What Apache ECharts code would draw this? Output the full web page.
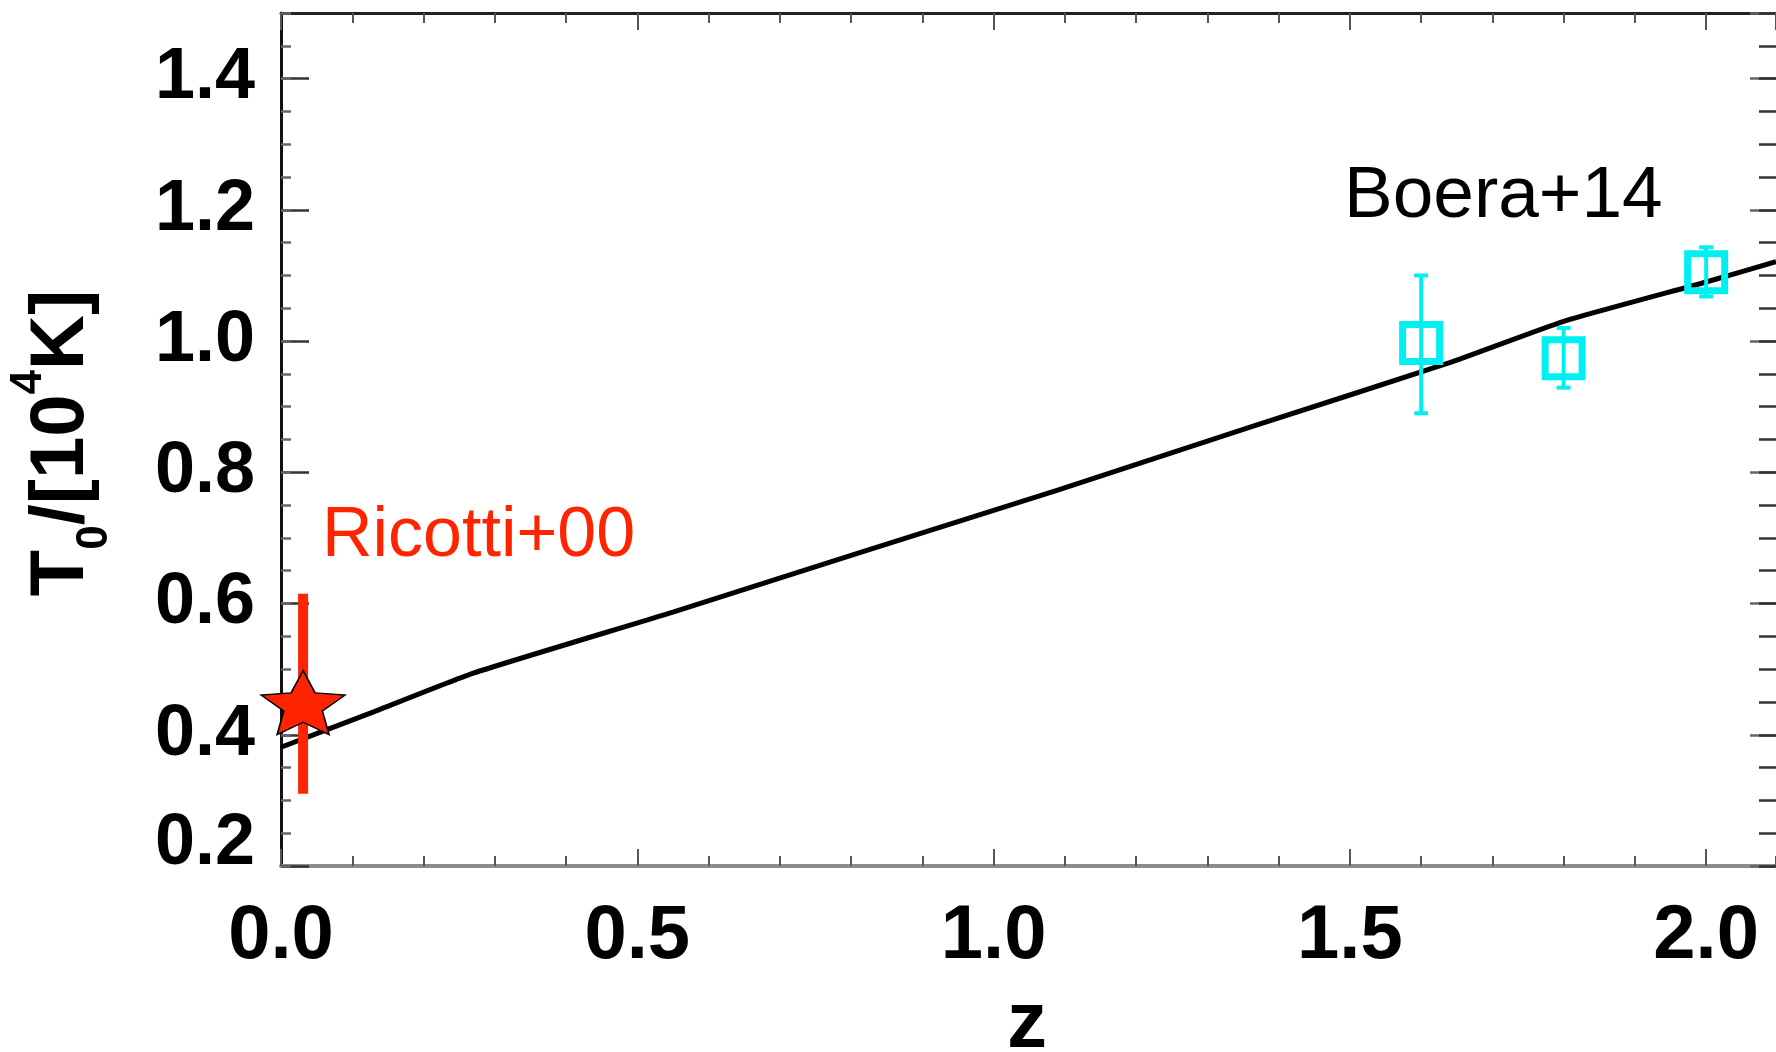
<!DOCTYPE html>
<html>
<head>
<meta charset="utf-8">
<script src="https://cdn.jsdelivr.net/npm/echarts@6/dist/echarts.min.js"></script>
<style>
html,body{margin:0;padding:0;background:#ffffff;}
#c{width:1776px;height:1052px;}
</style>
</head>
<body>
<div id="c"></div>
<script>
// ---- data ----
const modelZ = [0, 0.13, 0.27, 0.55, 0.81, 1.09, 1.36, 1.64, 1.8, 2.0, 2.098];
const modelT = [0.381, 0.435, 0.494, 0.587, 0.677, 0.773, 0.869, 0.967, 1.030, 1.090, 1.121];

const ricottiZ = [0.031];
const ricottiT = [0.449];
const ricottiLo = [0.31];
const ricottiHi = [0.615];

const boeraZ = [1.6, 1.8, 2.0];
const boeraT = [0.997, 0.974, 1.105];
const boeraLo = [0.89, 0.929, 1.068];
const boeraHi = [1.10, 1.02, 1.143];

const xTickLabels = ['0.0', '0.5', '1.0', '1.5', '2.0'];
const yTickLabels = ['0.2', '0.4', '0.6', '0.8', '1.0', '1.2', '1.4'];

// ---- styling ----
const FONT = '"Liberation Sans", Arial, Helvetica, sans-serif';
const RED = '#FF2400';
const CYAN = '#00F0F2';
const XMIN = 0, XMAX = 2.098, YMIN = 0.2, YMAX = 1.5;

function starPath(inner) {
  let d = '';
  for (let k = 0; k < 10; k++) {
    const r = k % 2 === 0 ? 1 : inner;
    const a = -Math.PI / 2 + k * Math.PI / 5;
    d += (k === 0 ? 'M' : 'L') + (r * Math.cos(a)).toFixed(4) + ',' + (r * Math.sin(a)).toFixed(4) + ' ';
  }
  return 'path://' + d + 'Z';
}

function errBar(color, width, cap) {
  return function (params, api) {
    const x = api.value(0), lo = api.value(1), hi = api.value(2);
    const p1 = api.coord([x, lo]);
    const p2 = api.coord([x, hi]);
    const st = { stroke: color, lineWidth: width, lineCap: 'butt' };
    const children = [
      { type: 'line', shape: { x1: p1[0], y1: p1[1], x2: p2[0], y2: p2[1] }, style: st }
    ];
    if (cap > 0) {
      children.push({ type: 'line', shape: { x1: p1[0] - cap, y1: p1[1], x2: p1[0] + cap, y2: p1[1] }, style: st });
      children.push({ type: 'line', shape: { x1: p2[0] - cap, y1: p2[1], x2: p2[0] + cap, y2: p2[1] }, style: st });
    }
    return { type: 'group', children: children };
  };
}

const xFmt = v => { const s = v.toFixed(1); return xTickLabels.includes(s) ? s : ''; };
const yFmt = v => {
  const s = v.toFixed(1);
  if (Math.abs(v - parseFloat(s)) > 1e-6 || !yTickLabels.includes(s)) return '';
  return s === yTickLabels[0] ? '{lo|' + s + '}' : s;
};

const labelStyle = { fontFamily: FONT, fontWeight: 'bold', color: '#000' };

function minorX(pos) {
  return {
    type: 'value', min: XMIN, max: XMAX, interval: 0.1, position: pos,
    axisLine: { show: false, onZero: false },
    axisTick: { inside: true, length: 10, lineStyle: { color: '#555', width: 2 } },
    splitLine: { show: false }, axisLabel: { show: false }
  };
}
function minorY(pos, len, color) {
  return {
    type: 'value', min: YMIN, max: YMAX, interval: 0.05, position: pos,
    axisLine: { show: false, onZero: false },
    axisTick: { inside: true, length: len, lineStyle: { color: color, width: 2.5 } },
    splitLine: { show: false }, axisLabel: { show: false }
  };
}

const chart = echarts.init(document.getElementById('c'), null, { renderer: 'canvas' });

const option = {
  animation: false,
  backgroundColor: '#ffffff',
  grid: { left: 281, top: 13, right: 0, bottom: 186, containLabel: false },
  xAxis: [
    {
      type: 'value', min: XMIN, max: XMAX, interval: 0.5, position: 'bottom',
      axisLine: { onZero: false, lineStyle: { color: '#8c8c8c', width: 4 } },
      axisTick: { inside: true, length: 17, lineStyle: { color: '#555', width: 2 } },
      splitLine: { show: false },
      axisLabel: Object.assign({ fontSize: 76, margin: 33, formatter: xFmt, showMaxLabel: false }, labelStyle)
    },
    {
      type: 'value', min: XMIN, max: XMAX, interval: 0.5, position: 'top',
      axisLine: { onZero: false, lineStyle: { color: '#222', width: 3 } },
      axisTick: { inside: true, length: 17, lineStyle: { color: '#555', width: 2 } },
      splitLine: { show: false },
      axisLabel: { show: false }
    },
    minorX('top'),
    minorX('bottom')
  ],
  yAxis: [
    {
      type: 'value', min: YMIN, max: YMAX, interval: 0.2, position: 'left',
      axisLine: { onZero: false, lineStyle: { color: '#111', width: 3 } },
      axisTick: { inside: true, length: 28, lineStyle: { color: '#333', width: 2.5 } },
      splitLine: { show: false },
      axisLabel: Object.assign({
        fontSize: 72, margin: 26, formatter: yFmt, showMaxLabel: false,
        rich: { lo: { fontSize: 72, fontWeight: 'bold', fontFamily: FONT, color: '#000', padding: [0, 0, 44, 0] } }
      }, labelStyle)
    },
    {
      type: 'value', min: YMIN, max: YMAX, interval: 0.2, position: 'right',
      axisLine: { show: false, onZero: false },
      axisTick: { inside: true, length: 26, lineStyle: { color: '#666', width: 2.5 } },
      splitLine: { show: false },
      axisLabel: { show: false }
    },
    minorY('right', 17, '#333'),
    minorY('left', 10, '#666')
  ],
  series: [
    {
      type: 'line', name: 'model', xAxisIndex: 0, yAxisIndex: 0,
      data: modelZ.map((z, i) => [z, modelT[i]]),
      showSymbol: false, symbol: 'none', smooth: 0.15,
      lineStyle: { color: '#000', width: 5 }, z: 2
    },
    {
      type: 'custom', name: 'Ricotti err', xAxisIndex: 0, yAxisIndex: 0,
      data: ricottiZ.map((z, i) => [z, ricottiLo[i], ricottiHi[i]]),
      encode: { x: 0, y: [1, 2] },
      renderItem: errBar(RED, 10, 0), z: 3
    },
    {
      type: 'scatter', name: 'Ricotti+00', xAxisIndex: 0, yAxisIndex: 0,
      data: ricottiZ.map((z, i) => [z, ricottiT[i]]),
      symbol: starPath(0.46), symbolSize: [84, 64],
      itemStyle: { color: RED, borderColor: '#000', borderWidth: 1.5, opacity: 1 }, z: 4
    },
    {
      type: 'custom', name: 'Boera err', xAxisIndex: 0, yAxisIndex: 0,
      data: boeraZ.map((z, i) => [z, boeraLo[i], boeraHi[i]]),
      encode: { x: 0, y: [1, 2] },
      renderItem: errBar(CYAN, 4, 7), z: 3
    },
    {
      type: 'scatter', name: 'Boera+14', xAxisIndex: 0, yAxisIndex: 0,
      data: boeraZ.map((z, i) => [z, boeraT[i]]),
      symbol: 'rect', symbolSize: [37, 37],
      itemStyle: { color: 'rgba(0,0,0,0)', borderColor: CYAN, borderWidth: 7, opacity: 1 }, z: 4
    }
  ],
  graphic: [
    {
      type: 'text', x: 322, y: 537,
      style: { text: 'Ricotti+00', fill: RED, font: '70px ' + FONT, align: 'left', verticalAlign: 'middle' }
    },
    {
      type: 'text', x: 1344, y: 197,
      style: { text: 'Boera+14', fill: '#000', font: '73px ' + FONT, align: 'left', verticalAlign: 'middle' }
    },
    {
      type: 'text', x: 1027, y: 1025,
      style: { text: 'z', fill: '#000', font: 'bold 80px ' + FONT, align: 'center', verticalAlign: 'middle' }
    },
    {
      type: 'text', x: 62, y: 443, rotation: Math.PI / 2,
      style: {
        text: '{a|T}{b|0}{a|/[10}{c|4}{a|K]}',
        align: 'center', verticalAlign: 'middle',
        rich: {
          a: { fontSize: 76, fontWeight: 'bold', fontFamily: FONT, fill: '#000', lineHeight: 110 },
          b: { fontSize: 44, fontWeight: 'bold', fontFamily: FONT, fill: '#000', lineHeight: 44, verticalAlign: 'bottom' },
          c: { fontSize: 44, fontWeight: 'bold', fontFamily: FONT, fill: '#000', lineHeight: 56, verticalAlign: 'top' }
        }
      }
    }
  ]
};

chart.setOption(option);
</script>
</body>
</html>
